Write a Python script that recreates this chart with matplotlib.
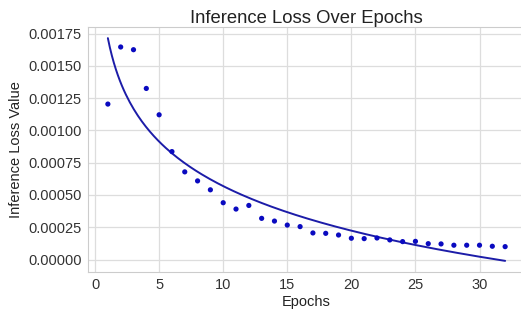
import numpy as np
import matplotlib
matplotlib.use("Agg")
import matplotlib.pyplot as plt
import seaborn as sns

epochs = list(range(1, 33))
loss = [0.001204, 0.001646, 0.001625, 0.001325, 0.001121, 0.000836, 0.000679, 0.000609,
        0.000540, 0.000440, 0.000391, 0.000419, 0.000319, 0.000298, 0.000267, 0.000255,
        0.000206, 0.000203, 0.000190, 0.000165, 0.000162, 0.000167, 0.000152, 0.000139,
        0.000141, 0.000123, 0.000121, 0.000111, 0.000111, 0.000111, 0.000103, 0.000100]
xticks = [0, 5, 10, 15, 20, 25, 30]
yticks = [0.0, 0.00025, 0.0005, 0.00075, 0.001, 0.00125, 0.0015, 0.00175]

sns.set_style("whitegrid")
plt.rcParams['font.family'] = ['Liberation Sans', 'DejaVu Sans']

fig = plt.figure(figsize=(5.21, 3.13), dpi=100)
ax = fig.add_axes([88/521, 1-272/313, (525-88)/521, (272-27)/313])

x = np.array(epochs, dtype=float)
y = np.array(loss)
b, a = np.polyfit(np.log(x), y, 1)
xs = np.linspace(x.min(), x.max(), 200)
ax.plot(xs, a + b*np.log(xs), color='#1c1ca8', lw=1.4, zorder=2)
ax.scatter(x, y, color='#0a0ac0', s=14, zorder=3, edgecolors='none')

ax.set_xticks(xticks)
ax.set_yticks(yticks)
ax.yaxis.set_major_formatter(matplotlib.ticker.FormatStrFormatter('%.5f'))
ax.set_xlim(-0.55, 33.55)
ax.tick_params(labelsize=10.5, colors='#333333', length=0, pad=4.5)
ax.set_title("Inference Loss Over Epochs", fontsize=13.3, color='#222222', pad=3)
ax.set_xlabel("Epochs", fontsize=10.5, color='#222222', labelpad=2)
ax.set_ylabel("Inference Loss Value", fontsize=10.5, color='#222222', labelpad=4)
ax.grid(color='#dddddd', lw=0.9)
for s in ax.spines.values():
    s.set_color('#cccccc')

fig.savefig("out.png", dpi=100)
